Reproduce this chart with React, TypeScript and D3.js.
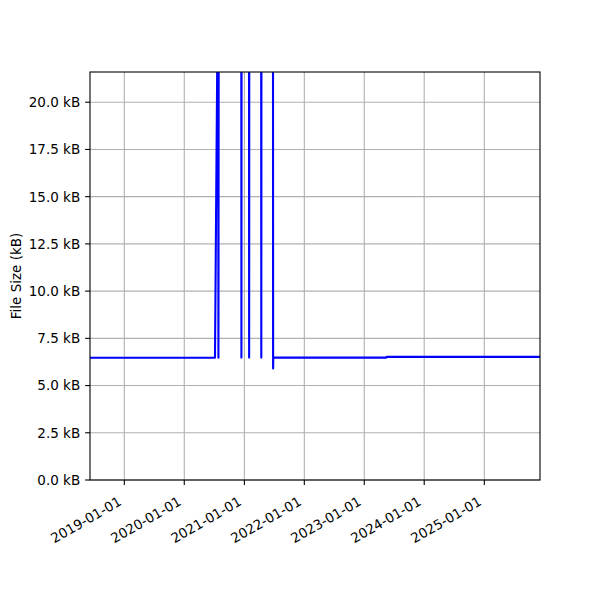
import React from "react";
import * as d3 from "d3";

const dates: string[] = [
  "2018-06-06", "2020-07-06", "2020-07-25", "2020-07-27", "2020-07-29",
  "2020-12-13", "2020-12-14", "2020-12-15",
  "2021-01-29", "2021-01-30", "2021-01-31",
  "2021-04-13", "2021-04-14", "2021-04-15",
  "2021-06-24", "2021-06-25", "2021-06-26",
  "2023-05-16", "2023-05-17", "2025-12-06",
];
const sizes: number[] = [
  6.47, 6.47, 28.0, 6.47, 28.0,
  28.0, 6.48, 28.0,
  28.0, 6.48, 28.0,
  28.0, 6.48, 28.0,
  28.0, 5.9, 6.48,
  6.48, 6.52, 6.52,
];
const yTicks: number[] = [0, 2.5, 5, 7.5, 10, 12.5, 15, 17.5, 20];
const xTickLabels: string[] = [
  "2019-01-01", "2020-01-01", "2021-01-01", "2022-01-01",
  "2023-01-01", "2024-01-01", "2025-01-01",
];
const yMax = 21.6;
const yLabel = "File Size (kB)";

const W = 600, H = 600;
const M = { left: 90, right: 540, top: 72, bottom: 480 };
const FONT = "DejaVu Sans";
const FS = 13.5;

export default function App() {
  const parse = d3.utcParse("%Y-%m-%d");
  const pts = dates.map((d, i) => ({ t: parse(d) as Date, v: sizes[i] }));
  const x = d3
    .scaleUtc()
    .domain(d3.extent(pts, (p) => p.t) as [Date, Date])
    .range([M.left, M.right]);
  const y = d3.scaleLinear().domain([0, yMax]).range([M.bottom, M.top]);
  const line = d3
    .line<{ t: Date; v: number }>()
    .x((p) => x(p.t))
    .y((p) => y(p.v));
  const xTicks = xTickLabels.map((s) => ({ s, t: parse(s) as Date }));
  const fmt = d3.format(".1f");
  const tickLen = 4.9;
  const pad = 4.9;

  return (
    <svg
      width={W}
      height={H}
      style={{ position: "absolute", left: 0, top: 0, background: "#fff" }}
      fontFamily={FONT}
    >
      <defs>
        <clipPath id="plotclip">
          <rect x={M.left} y={M.top} width={M.right - M.left} height={M.bottom - M.top} />
        </clipPath>
      </defs>
      <rect x={0} y={0} width={W} height={H} fill="#fff" />
      {yTicks.map((v) => (
        <line key={"gy" + v} x1={M.left} x2={M.right} y1={y(v)} y2={y(v)} stroke="#b0b0b0" strokeWidth={1.1} />
      ))}
      {xTicks.map((d) => (
        <line key={"gx" + d.s} x1={x(d.t)} x2={x(d.t)} y1={M.top} y2={M.bottom} stroke="#b0b0b0" strokeWidth={1.1} />
      ))}
      <path d={line(pts) || ""} fill="none" stroke="#0000ff" strokeWidth={2.1} strokeLinejoin="round" clipPath="url(#plotclip)" />
      <rect x={M.left} y={M.top} width={M.right - M.left} height={M.bottom - M.top} fill="none" stroke="#000" strokeWidth={1.1} />
      {yTicks.map((v) => (
        <g key={"ty" + v}>
          <line x1={M.left - tickLen} x2={M.left} y1={y(v)} y2={y(v)} stroke="#000" strokeWidth={1.1} />
          <text x={M.left - tickLen - pad} y={y(v)} dy="0.36em" textAnchor="end" fontSize={FS} fill="#000">
            {fmt(v) + " kB"}
          </text>
        </g>
      ))}
      {xTicks.map((d) => {
        const tx = x(d.t);
        return (
          <g key={"tx" + d.s}>
            <line x1={tx} x2={tx} y1={M.bottom} y2={M.bottom + tickLen} stroke="#000" strokeWidth={1.1} />
            <text
              transform={`translate(${tx - 2},${M.bottom + tickLen + pad + 14.5}) rotate(-30)`}
              textAnchor="end"
              fontSize={FS}
              fill="#000"
            >
              {d.s}
            </text>
          </g>
        );
      })}
      <text
        transform={`translate(21,${(M.top + M.bottom) / 2}) rotate(-90)`}
        textAnchor="middle"
        fontSize={FS}
        fill="#000"
      >
        {yLabel}
      </text>
    </svg>
  );
}
